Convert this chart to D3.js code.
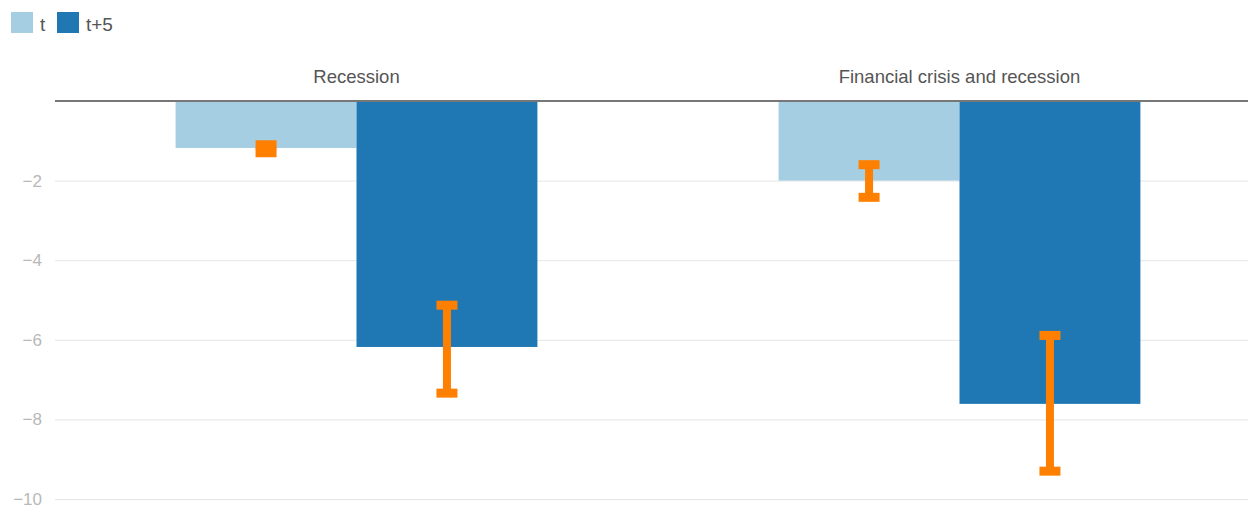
<!DOCTYPE html>
<html>
<head>
<meta charset="utf-8">
<script src="https://cdn.jsdelivr.net/npm/d3@7"></script>
<style>
html,body{margin:0;padding:0;background:#fff;}
svg{display:block;font-family:"Liberation Sans",Arial,Helvetica,sans-serif;}
</style>
</head>
<body>
<svg id="chart" width="1248" height="508"></svg>
<script>
const categories = ["Recession", "Financial crisis and recession"];
const seriesNames = ["t", "t+5"];
const seriesColors = ["#a6cee3", "#1f78b4"];
const valuesT = [-1.18, -2.0];
const valuesT5 = [-6.18, -7.61];
const errLowT = [-1.3, -2.42];
const errHighT = [-1.1, -1.6];
const errLowT5 = [-7.34, -9.3];
const errHighT5 = [-5.13, -5.89];
const yTicks = [-2, -4, -6, -8, -10];

(function () {
const svg = d3.select("#chart");
const W = 1248, H = 508;
const mLeft = 55, mRight = 1261, mTop = 101, mBottom = 499;

const x = d3.scaleBand().domain(categories).range([mLeft, mRight]).paddingInner(0.4).paddingOuter(0.2);
const xs = d3.scaleBand().domain(seriesNames).range([0, x.bandwidth()]).padding(0);
const y = d3.scaleLinear().domain([0, -10]).range([mTop, mBottom]);

// gridlines
const yAxis = d3.axisLeft(y).tickValues(yTicks).tickSize(-(W - mLeft)).tickFormat(d => String(d).replace("-", "\u2212"));
const ga = svg.append("g").attr("transform", `translate(${mLeft},0)`).call(yAxis);
ga.select(".domain").remove();
ga.selectAll(".tick line").attr("stroke", "#e6e6e6").attr("stroke-width", 1);
ga.selectAll(".tick text").attr("x", -13).attr("dy", "0.32em").attr("fill", "#b8b8b8").attr("font-size", 17)
  .attr("font-family", "Liberation Sans, Arial, sans-serif");

const series = [
  {name: "t", vals: valuesT, lo: errLowT, hi: errHighT, color: seriesColors[0]},
  {name: "t+5", vals: valuesT5, lo: errLowT5, hi: errHighT5, color: seriesColors[1]}
];

// bars
series.forEach(s => {
  svg.append("g").selectAll("rect").data(categories).join("rect")
    .attr("x", c => x(c) + xs(s.name))
    .attr("width", xs.bandwidth())
    .attr("y", y(0))
    .attr("height", (c, i) => y(s.vals[i]) - y(0))
    .attr("fill", s.color);
});

// zero line
svg.append("line").attr("x1", mLeft).attr("x2", W).attr("y1", y(0)).attr("y2", y(0))
  .attr("stroke", "#777").attr("stroke-width", 2);

// error bars
const capW = 21, capH = 9, stemW = 8;
series.forEach(s => {
  const g = svg.append("g");
  categories.forEach((c, i) => {
    const cx = x(c) + xs(s.name) + xs.bandwidth() / 2;
    const yHi = y(s.hi[i]), yLo = y(s.lo[i]);
    g.append("rect").attr("x", cx - stemW / 2).attr("width", stemW)
      .attr("y", yHi).attr("height", yLo - yHi).attr("fill", "#ff7f00");
    [yHi, yLo].forEach(yy => {
      g.append("rect").attr("x", cx - capW / 2).attr("width", capW)
        .attr("y", yy - capH / 2).attr("height", capH).attr("fill", "#ff7f00");
    });
  });
});

// category titles
svg.append("g").selectAll("text").data(categories).join("text")
  .attr("x", c => x(c) + x.bandwidth() / 2)
  .attr("y", 83)
  .attr("text-anchor", "middle")
  .attr("font-size", 18.5)
  .attr("fill", "#555")
  .text(c => c);

// legend
const legend = svg.append("g");
const legendX = [11, 57];
series.forEach((s, i) => {
  legend.append("rect").attr("x", legendX[i]).attr("y", 12).attr("width", 22).attr("height", 21).attr("fill", s.color);
  legend.append("text").attr("x", legendX[i] + 29).attr("y", 31).attr("font-size", 19).attr("fill", "#555").text(s.name);
});
})();
</script>
</body>
</html>
